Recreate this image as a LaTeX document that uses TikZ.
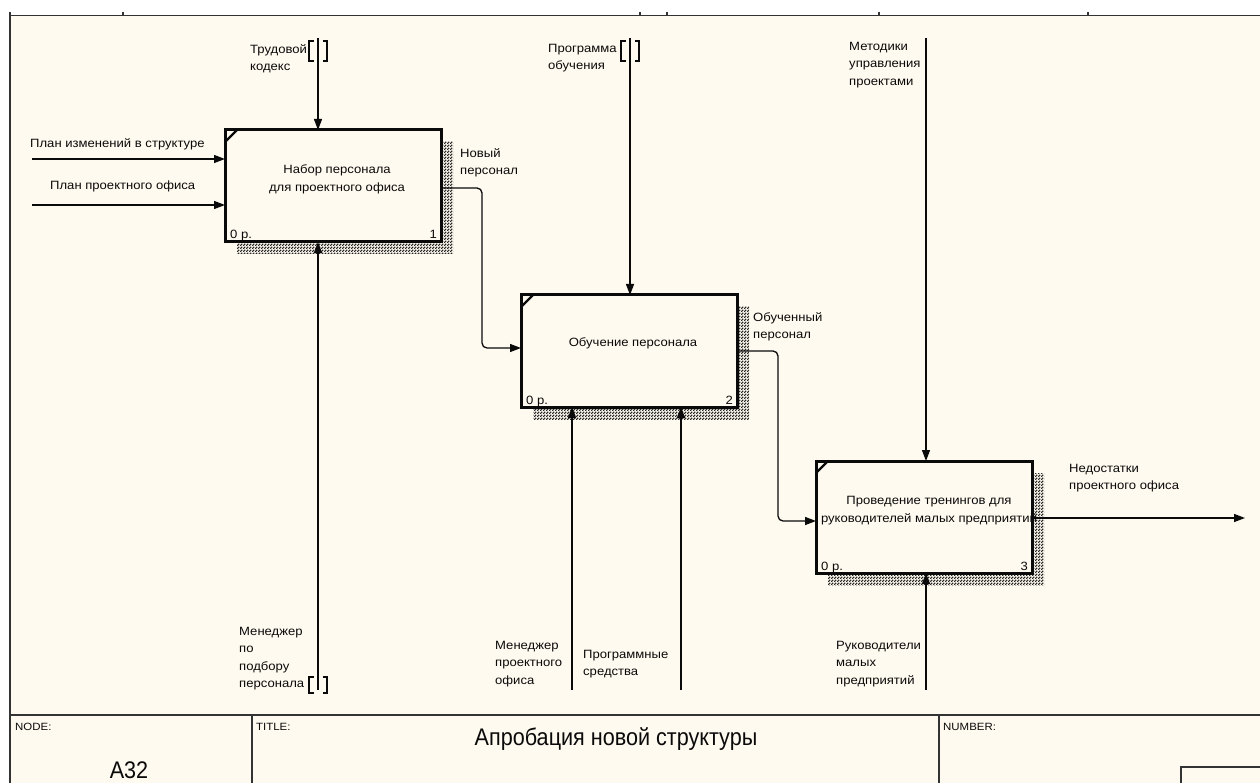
\documentclass[tikz,border=0pt]{standalone}
\usepackage{fontspec}
\setmainfont{Liberation Sans}
\newfontfamily\lblfont[FakeStretch=1.09]{Liberation Sans}
\newfontfamily\titlefont[FakeStretch=0.9]{Liberation Sans}
\usetikzlibrary{arrows.meta,calc,patterns}
\definecolor{paper}{RGB}{255,250,239}
\definecolor{ink}{RGB}{10,10,10}
\pgfdeclarelayer{paperlayer}
\pgfdeclarelayer{shadelayer}
\pgfsetlayers{paperlayer,shadelayer,main}
% dotted hatch used for the box shadows
\pgfdeclarepatternformonly{idefdots}{\pgfpointorigin}{\pgfqpoint{3pt}{3pt}}{\pgfqpoint{3pt}{3pt}}{%
  \pgfpathrectangle{\pgfpointorigin}{\pgfqpoint{1.8pt}{1.8pt}}%
  \pgfpathrectangle{\pgfqpoint{1.5pt}{1.5pt}}{\pgfqpoint{1.8pt}{1.8pt}}%
  \pgfusepath{fill}}
\tikzset{
  func/.style={draw=ink, line width=3pt, fill=paper, minimum width=216pt,
    minimum height=112pt, inner sep=0pt, outer sep=0pt, anchor=north west},
  shade/.style={pattern=idefdots, pattern color=black!85},
  lbl/.style={font=\lblfont\fontsize{12}{17.5}\selectfont, text=ink, align=left,
    inner sep=0pt, anchor=north west},
  boxtext/.style={font=\lblfont\fontsize{12}{18}\selectfont, text=ink, align=center, inner sep=0pt},
  corner/.style={font=\lblfont\fontsize{12}{14}\selectfont, text=ink, inner sep=0pt},
  arr/.style={draw=ink, line width=1.3pt, -{Triangle[length=11pt,width=8pt]}},
  bracket/.style={draw=ink, line width=1.4pt},
  frame/.style={draw=black!80, line width=1.6pt},
  blockcap/.style={font=\lblfont\fontsize{10.5}{12}\selectfont, inner sep=0pt,
    anchor=north west, text=ink},
  bigtext/.style={font=\titlefont\fontsize{24}{28}\selectfont, text=ink, inner sep=0pt},
  tunnel/.pic={
    \draw[bracket] (-4.5,-10) -- (-9,-10) -- (-9,10) -- (-4.5,10);
    \draw[bracket] (4.5,-10) -- (9,-10) -- (9,10) -- (4.5,10);
  }
}
\begin{document}
\begin{tikzpicture}[x=1pt,y=-1pt]
\useasboundingbox (0,0) rectangle (1260,783);
\begin{pgfonlayer}{paperlayer}
  \fill[white] (0,0) rectangle (1260,783);
  \fill[paper] (10,16) rectangle (1260,783);
\end{pgfonlayer}

% sheet frame with ruler ticks
\draw[frame] (10,12) -- (10,783);
\draw[frame] (10,15.5) -- (1260,15.5);
\foreach \tx in {123,640,667,879,1088}
  \draw[frame] (\tx,12) -- (\tx,16);

% activity boxes
\node[func] (b1) at (225,130) {};
\node[func] (b2) at (521,295) {};
\node[func] (b3) at (816,461) {};

\begin{pgfonlayer}{shadelayer}
  \foreach \b in {b1,b2,b3}
    \fill[shade] ($(\b.north west)+(12,12)$) rectangle ($(\b.south east)+(12,12)$);
\end{pgfonlayer}

\foreach \b in {b1,b2,b3}
  \draw[ink, line width=2.2pt] ($(\b.north west)+(0,12)$) -- ($(\b.north west)+(12,0)$);

\node[boxtext] (t1) at ($(b1.center)+(4,-7)$) {Набор персонала\\для проектного офиса};
\node[boxtext] (t2) at ($(b2.center)+(4,-8)$) {Обучение персонала};
\node[boxtext] (t3) at ($(b3.center)+(5,-6)$) {Проведение тренингов для\\руководителей малых предприятий};

\foreach \b/\n in {b1/1,b2/2,b3/3}{
  \node[corner, anchor=base west] (\b p) at ($(\b.south west)+(5,-3)$) {0 р.};
  \node[corner, anchor=base east] (\b n) at ($(\b.south east)+(-4,-3)$) {\n};
}

% inputs
\coordinate (i1) at (32,159);
\coordinate (i2) at (32,205);
\draw[arr] (i1) -- (i1 -| b1.west);
\draw[arr] (i2) -- (i2 -| b1.west);
\node[lbl] (li1) at (30,138) {План изменений в структуре};
\node[lbl] (li2) at (50,181) {План проектного офиса};

% controls
\coordinate (c1) at (318,38);
\coordinate (c2) at (630,38);
\coordinate (c3) at (926,38);
\draw[arr] (c1) -- (c1 |- b1.north);
\draw[arr] (c2) -- (c2 |- b2.north);
\draw[arr] (c3) -- (c3 |- b3.north);
\pic at (318,51) {tunnel};
\pic at (630,51) {tunnel};
\node[lbl] (lc1) at (250,44) {Трудовой\\кодекс};
\node[lbl] (lc2) at (548,44) {Программа\\обучения};
\node[lbl] (lc3) at (849,42) {Методики\\управления\\проектами};

% mechanisms
\coordinate (m1) at (318,690);
\coordinate (m2) at (572,690);
\coordinate (m3) at (681,690);
\coordinate (m4) at (926,690);
\draw[arr] (m1) -- (m1 |- b1.south);
\draw[arr] (m2) -- (m2 |- b2.south);
\draw[arr] (m3) -- (m3 |- b2.south);
\draw[arr] (m4) -- (m4 |- b3.south);
\pic[yscale=0.8] at (318,685) {tunnel};
\node[lbl] (lm1) at (239,627) {Менеджер\\по\\подбору\\персонала};
\node[lbl] (lm2) at (495,641) {Менеджер\\проектного\\офиса};
\node[lbl] (lm3) at (583,650) {Программные\\средства};
\node[lbl] (lm4) at (836,641) {Руководители\\малых\\предприятий};

% outputs
\draw[arr, rounded corners=5pt] ($(b1.east)+(0,2)$) -- ++(41,0) |- ($(b2.west)+(0,-3)$);
\draw[arr, rounded corners=5pt] (b2.east) -- ++(41,0) |- ($(b3.west)+(0,4)$);
\coordinate (o3) at (1245,518);
\draw[arr] (o3 -| b3.east) -- (o3);
\node[lbl] (lo1) at (460,148) {Новый\\персонал};
\node[lbl] (lo2) at (753,312) {Обученный\\персонал};
\node[lbl] (lo3) at (1069,464) {Недостатки\\проектного офиса};

% title block
\draw[frame] (10,715) -- (1260,715);
\draw[frame] (252,715) -- (252,783);
\draw[frame] (939,715) -- (939,783);
\draw[frame] (1181,783) -- (1181,767) -- (1260,767);
\node[blockcap] (nodecap) at (15,723) {NODE:};
\node[blockcap] (titlecap) at (256,723) {TITLE:};
\node[blockcap] (numcap) at (943,723) {NUMBER:};
\node[bigtext] (ttl) at (616,739) {Апробация новой структуры};
\node[bigtext] (nodeid) at (129,770) {A32};
\end{tikzpicture}
\end{document}
